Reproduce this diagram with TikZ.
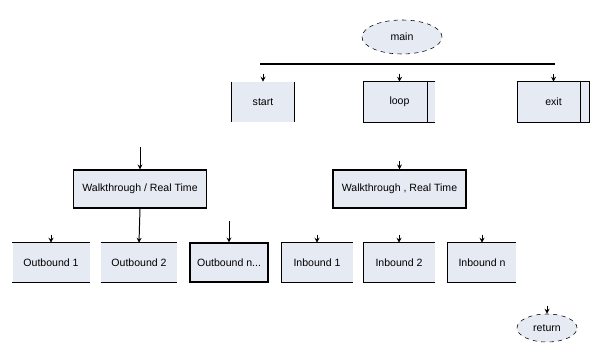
\documentclass[tikz,border=0pt]{standalone}
\usepackage{fontspec}
\setmainfont{Liberation Sans}
\usetikzlibrary{shapes.geometric,arrows.meta}
\definecolor{boxfill}{HTML}{E6EAF3}

\begin{document}
\begin{tikzpicture}[
  x=0.025cm, y=-0.025cm,
  font=\fontsize{7.5}{9}\selectfont,
  box/.style={rectangle,fill=boxfill,inner sep=0pt,minimum height=#1*0.025cm},
  box/.default=39,
  oval/.style={ellipse,draw,dashed,fill=boxfill,inner sep=0pt},
  line/.style={draw,line width=0.8pt},
  arr/.style={draw,line width=0.7pt,-{Stealth[length=3.5pt,width=3.5pt]}}
  ]
\useasboundingbox (0,0) rectangle (590,346);
% top level
\node[oval,minimum width=2cm,minimum height=0.85cm] (main) at (402,37) {main};
\coordinate (barL) at (260,64);
\coordinate (barR) at (555,64);
\draw[line] (barL) -- (barR);
\node[box=40,minimum width=63*0.025cm] (start) at (263,102) {start};
\node[box=40,minimum width=71*0.025cm] (loop) at (399.5,102) {loop};
\node[box=40,minimum width=72*0.025cm] (exit) at (553.5,102) {exit};
\draw[line] (start.north west) -- (start.south west);
\draw[line] (start.north east) -- (start.south east);
\draw[line] (loop.north east) -- (loop.north west) -- (loop.south west) -- (loop.south east);
\draw[line] ([xshift=-8*0.025cm]loop.north east) -- ([xshift=-8*0.025cm]loop.south east);
\draw[line] (exit.north east) -- (exit.north west) -- (exit.south west) -- (exit.south east) -- cycle;
\draw[line] ([xshift=-9*0.025cm]exit.north east) -- ([xshift=-9*0.025cm]exit.south east);
% walkthrough blocks
\node[box=38,minimum width=133*0.025cm,draw,line width=0.8pt] (wl) at (140,189) {Walkthrough / Real Time};
\node[box=38,minimum width=133*0.025cm,draw,line width=0.8pt] (wr) at (399.5,189) {Walkthrough , Real Time};
% outbound
\node[box,minimum width=77*0.025cm] (out1) at (51,262.5) {Outbound 1};
\node[box,minimum width=76*0.025cm] (out2) at (139,262.5) {Outbound 2};
\node[box,minimum width=78*0.025cm,draw,line width=0.8pt] (outn) at (229,262.5) {Outbound n...};
\foreach \n in {out1,out2} {
  \draw[line] (\n.north west) -- (\n.north east);
  \draw[line] (\n.south west) -- (\n.south east);
}
% inbound
\node[box,minimum width=71*0.025cm] (in1) at (317,262.5) {Inbound 1};
\node[box,minimum width=71*0.025cm] (in2) at (399,262.5) {Inbound 2};
\node[box,minimum width=68*0.025cm] (inn) at (482,262.5) {Inbound n};
\foreach \n in {in1,in2,inn} {
  \draw[line] (\n.north east) -- (\n.north west) -- (\n.south west) -- (\n.south east);
}
\node[oval,minimum width=1.5cm,minimum height=0.7cm] (ret) at (547,328) {return};
% arrows
\foreach \n in {start,loop,exit,wr,out1,in1,in2,inn,ret}
  \draw[arr] ([yshift=8*0.025cm]\n.north) -- (\n.north);
\draw[arr] ([yshift=22*0.025cm]wl.north) -- (wl.north);
\draw[arr] ([yshift=21*0.025cm]outn.north) -- (outn.north);
\draw[arr] (wl.south) -- (out2.north);
\end{tikzpicture}
\end{document}
